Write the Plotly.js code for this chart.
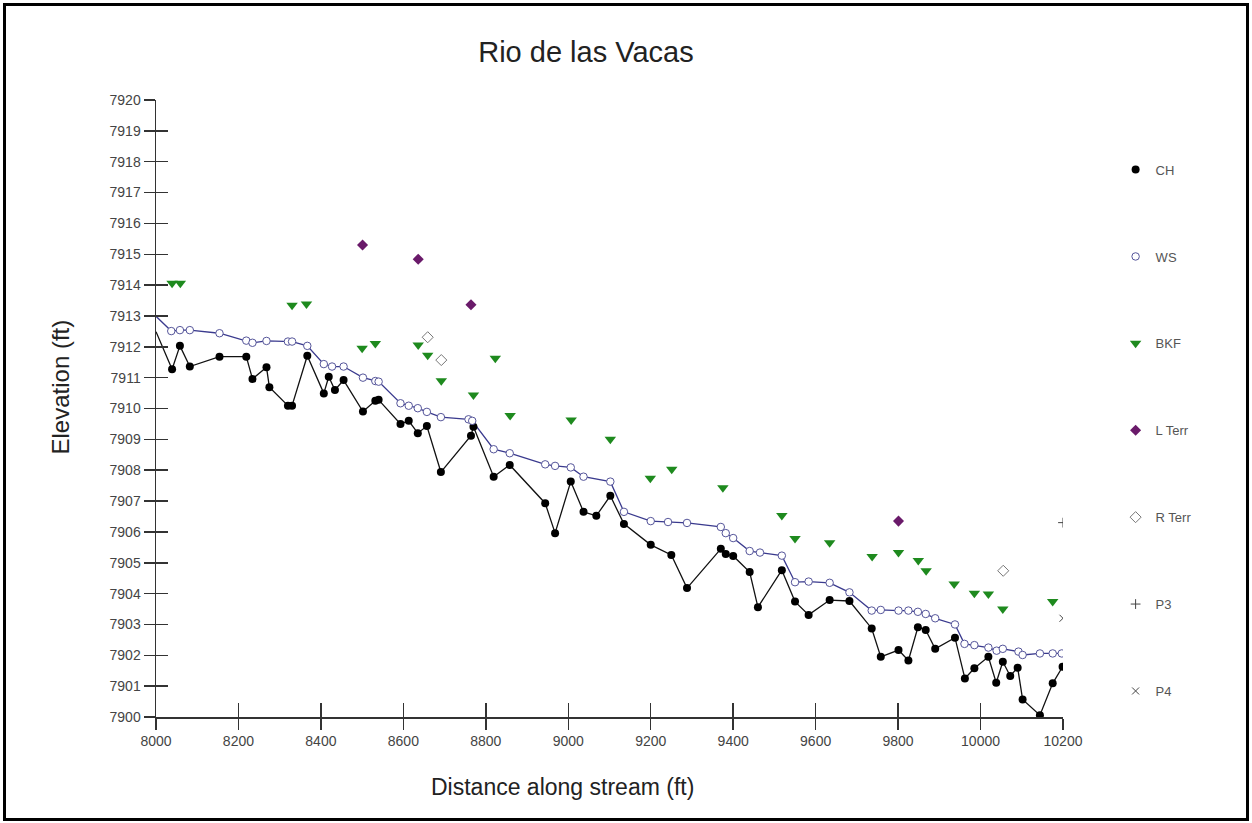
<!DOCTYPE html>
<html>
<head>
<meta charset="utf-8">
<script src="https://cdn.plot.ly/plotly-3.0.1.min.js"></script>
<style>
  html, body { margin: 0; padding: 0; background: #fff; }
  #chart { width: 1252px; height: 823px; }
  #frame { position: absolute; left: 3px; top: 3px; width: 1240px; height: 812px; border: 3px solid #000; pointer-events: none; }
</style>
</head>
<body>
<div id="chart"></div>
<div id="frame"></div>
<script>
// Channel thalweg (CH)
const chX = [8000, 8039, 8058, 8082, 8154, 8219, 8234, 8268, 8275, 8320, 8330, 8367, 8407, 8419, 8434, 8455, 8502, 8532, 8540, 8593, 8613, 8635, 8657, 8691, 8764, 8770, 8819, 8858, 8944, 8968, 9006, 9037, 9068, 9102, 9135, 9200, 9250, 9288, 9370, 9382, 9400, 9440, 9460, 9518, 9550, 9583, 9634, 9682, 9736, 9758, 9801, 9825, 9848, 9867, 9890, 9938, 9962, 9985, 10019, 10038, 10054, 10072, 10090, 10102, 10144, 10175, 10199];
const chY = [7912.49, 7911.27, 7912.03, 7911.36, 7911.68, 7911.68, 7910.96, 7911.34, 7910.69, 7910.09, 7910.09, 7911.71, 7910.49, 7911.03, 7910.60, 7910.92, 7909.90, 7910.25, 7910.28, 7909.50, 7909.60, 7909.20, 7909.43, 7907.94, 7909.12, 7909.41, 7907.79, 7908.17, 7906.93, 7905.96, 7907.63, 7906.65, 7906.52, 7907.17, 7906.26, 7905.58, 7905.25, 7904.18, 7905.45, 7905.28, 7905.22, 7904.70, 7903.56, 7904.76, 7903.74, 7903.31, 7903.79, 7903.76, 7902.87, 7901.95, 7902.17, 7901.83, 7902.91, 7902.82, 7902.21, 7902.57, 7901.25, 7901.58, 7901.95, 7901.11, 7901.79, 7901.33, 7901.60, 7900.57, 7900.06, 7901.09, 7901.63];

// Water surface (WS)
const wsX = [8000, 8037, 8058, 8082, 8154, 8219, 8234, 8268, 8320, 8330, 8367, 8407, 8427, 8455, 8502, 8532, 8540, 8593, 8613, 8635, 8657, 8691, 8758, 8767, 8819, 8858, 8944, 8968, 9006, 9037, 9102, 9135, 9200, 9242, 9288, 9370, 9382, 9400, 9440, 9465, 9518, 9550, 9583, 9634, 9682, 9736, 9758, 9801, 9825, 9848, 9867, 9890, 9938, 9961, 9985, 10019, 10039, 10054, 10092, 10102, 10144, 10175, 10197];
const wsY = [7912.99, 7912.51, 7912.54, 7912.54, 7912.44, 7912.20, 7912.13, 7912.19, 7912.17, 7912.17, 7912.03, 7911.44, 7911.36, 7911.36, 7911.00, 7910.89, 7910.87, 7910.17, 7910.09, 7910.01, 7909.89, 7909.72, 7909.65, 7909.60, 7908.68, 7908.55, 7908.19, 7908.14, 7908.09, 7907.79, 7907.63, 7906.65, 7906.35, 7906.32, 7906.29, 7906.16, 7905.96, 7905.80, 7905.38, 7905.33, 7905.23, 7904.37, 7904.39, 7904.35, 7904.04, 7903.45, 7903.47, 7903.45, 7903.45, 7903.41, 7903.34, 7903.20, 7903.00, 7902.37, 7902.33, 7902.25, 7902.15, 7902.21, 7902.12, 7902.01, 7902.06, 7902.06, 7902.06];

// Bankfull (BKF)
const bkfX = [8039, 8059, 8330, 8365, 8500, 8532, 8636, 8659, 8692, 8770, 8823, 8859, 9007, 9102, 9199, 9251, 9375, 9518, 9550, 9634, 9737, 9801, 9849, 9868, 9936, 9985, 10019, 10054, 10175];
const bkfY = [7914.06, 7914.06, 7913.35, 7913.39, 7911.95, 7912.11, 7912.06, 7911.73, 7910.90, 7910.44, 7911.63, 7909.77, 7909.63, 7909.00, 7907.74, 7908.03, 7907.43, 7906.53, 7905.79, 7905.65, 7905.20, 7905.33, 7905.07, 7904.74, 7904.31, 7904.01, 7903.99, 7903.50, 7903.74];

// Left terrace / right terrace
const lTerrX = [8501, 8636, 8764, 9801];
const lTerrY = [7915.30, 7914.84, 7913.36, 7906.35];
const rTerrX = [8659, 8692, 10055];
const rTerrY = [7912.31, 7911.57, 7904.74];

// P3 / P4
const p3X = [10200];
const p3Y = [7906.3];
const p4X = [10200];
const p4Y = [7903.2];

const seriesNames = ['CH', 'WS', 'BKF', 'L Terr', 'R Terr', 'P3', 'P4'];

const traces = [
  { x: chX, y: chY, type: 'scatter', mode: 'lines', line: { color: '#111', width: 1.3 }, showlegend: false, legendgroup: 'ch', hoverinfo: 'skip' },
  { x: wsX, y: wsY, type: 'scatter', mode: 'lines', line: { color: '#3a3a8e', width: 1.3 }, showlegend: false, legendgroup: 'ws', hoverinfo: 'skip' },
  { x: chX.slice(1), y: chY.slice(1), type: 'scatter', mode: 'markers', name: seriesNames[0], legendgroup: 'ch',
    marker: { symbol: 'circle', size: 8, color: '#000', line: { width: 0 } } },
  { x: wsX.slice(1), y: wsY.slice(1), type: 'scatter', mode: 'markers', name: seriesNames[1], legendgroup: 'ws',
    marker: { symbol: 'circle', size: 7.5, color: '#fff', line: { color: '#55559a', width: 1 } } },
  { x: bkfX, y: bkfY, type: 'scatter', mode: 'markers', name: seriesNames[2], legendgroup: 'bkf',
    marker: { symbol: 'triangle-down', size: 10, color: '#1e8a1e', line: { width: 0 } } },
  { x: lTerrX, y: lTerrY, type: 'scatter', mode: 'markers', name: seriesNames[3], legendgroup: 'lt',
    marker: { symbol: 'diamond', size: 8.5, color: '#6a1a6a', line: { width: 0 } } },
  { x: rTerrX, y: rTerrY, type: 'scatter', mode: 'markers', name: seriesNames[4], legendgroup: 'rt',
    marker: { symbol: 'diamond', size: 8.5, color: '#fff', line: { color: '#777', width: 1 } } },
  { x: p3X, y: p3Y, type: 'scatter', mode: 'markers', name: seriesNames[5], legendgroup: 'p3',
    marker: { symbol: 'cross-thin', size: 7, color: '#444', line: { color: '#444', width: 1 } } },
  { x: p4X, y: p4Y, type: 'scatter', mode: 'markers', name: seriesNames[6], legendgroup: 'p4',
    marker: { symbol: 'x-thin', size: 7, color: '#444', line: { color: '#444', width: 1 } } },
  // carrier for the inner half of the tick marks (invisible)
  { x: chX, y: chY, xaxis: 'x2', yaxis: 'y2', type: 'scatter', mode: 'markers', marker: { opacity: 0, size: 1 },
    showlegend: false, hoverinfo: 'skip' }
];

const axisFont = { family: 'Arial, "Liberation Sans", sans-serif', size: 14, color: '#444' };
const xRange = [8000, 10200];
const yRange = [7900, 7920];

const layout = {
  width: 1252, height: 823,
  paper_bgcolor: '#fff', plot_bgcolor: '#fff',
  margin: { l: 155.5, r: 189, t: 100, b: 106 },
  font: { family: 'Arial, "Liberation Sans", sans-serif', color: '#333' },
  title: { text: 'Rio de las Vacas', font: { size: 29, color: '#222' }, x: 0.468, xref: 'container', xanchor: 'center', y: 0.937, yref: 'container', yanchor: 'middle' },
  xaxis: { range: xRange, dtick: 200, tick0: 8000, tickformat: 'd', showgrid: false, zeroline: false, showline: true, linecolor: '#333', linewidth: 1.5,
           ticks: 'outside', ticklen: 11, tickwidth: 1.5, tickcolor: '#333', tickfont: axisFont, fixedrange: true },
  yaxis: { range: yRange, dtick: 1, tick0: 7900, tickformat: 'd', showgrid: false, zeroline: false, showline: true, linecolor: '#333', linewidth: 1.5,
           ticks: 'outside', ticklen: 11, tickwidth: 1.5, tickcolor: '#333', tickfont: axisFont, fixedrange: true },
  xaxis2: { overlaying: 'x', anchor: 'y', side: 'bottom', range: xRange, dtick: 200, tick0: 8000, showgrid: false, zeroline: false, showline: false,
            ticks: 'inside', ticklen: 14, tickwidth: 1.5, tickcolor: '#333', showticklabels: false, fixedrange: true },
  yaxis2: { overlaying: 'y', anchor: 'x', side: 'left', range: yRange, dtick: 1, tick0: 7900, showgrid: false, zeroline: false, showline: false,
            ticks: 'inside', ticklen: 12, tickwidth: 1.5, tickcolor: '#333', showticklabels: false, fixedrange: true },
  legend: { x: 1.058, xanchor: 'left', y: 0.9115, yanchor: 'top', traceorder: 'grouped', tracegroupgap: 67,
            font: { size: 13, color: '#555' }, bgcolor: 'rgba(0,0,0,0)', itemwidth: 30 },
  annotations: [
    { text: 'Distance along stream (ft)', xref: 'paper', yref: 'paper', x: 0.448, y: -0.1135, xanchor: 'center', yanchor: 'middle', showarrow: false,
      font: { size: 23, color: '#222' } },
    { text: 'Elevation (ft)', xref: 'paper', yref: 'paper', x: -0.1052, y: 0.535, xanchor: 'center', yanchor: 'middle', showarrow: false, textangle: -90,
      font: { size: 24, color: '#222' } }
  ],
  showlegend: true
};

Plotly.newPlot('chart', traces, layout, { displayModeBar: false, staticPlot: true });
</script>
</body>
</html>
